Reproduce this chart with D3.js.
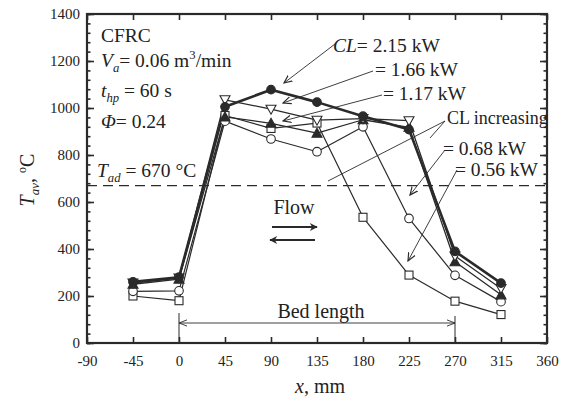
<!DOCTYPE html>
<html><head><meta charset="utf-8">
<script src="https://cdn.jsdelivr.net/npm/d3@7"></script>
<style>
html,body{margin:0;padding:0;background:#fff;}
text{font-family:"Liberation Serif","Times New Roman",serif;fill:#222;}
</style></head>
<body>
<svg id="c" width="570" height="407"></svg>
<script>
const xPos = [-45, 0, 45, 90, 135, 180, 225, 270, 315];
const cl215 = [260, 280, 1005, 1078, 1025, 965, 908, 390, 255];
const cl166 = [255, 276, 1035, 995, 948, 955, 946, 370, 232];
const cl117 = [250, 272, 962, 935, 893, 950, 918, 346, 205];
const cl068 = [220, 222, 944, 868, 814, 920, 530, 288, 176];
const cl056 = [200, 180, 968, 913, 936, 535, 289, 178, 121];
const xTicks = [-90, -45, 0, 45, 90, 135, 180, 225, 270, 315, 360];
const yTicks = [0, 200, 400, 600, 800, 1000, 1200, 1400];
const yMinor = d3.range(0, 1401, 40);
const tAd = 670;

const svg = d3.select("#c");
const x = d3.scaleLinear().domain([-90, 360]).range([87, 547]);
const y = d3.scaleLinear().domain([0, 1400]).range([343, 14]);
const ink = "#2a2a2a";
const FS = 19.5;

const defs = svg.append("defs");
defs.append("marker").attr("id","ah").attr("viewBox","0 0 10 10").attr("refX",9).attr("refY",5)
  .attr("markerWidth",9).attr("markerHeight",9).attr("markerUnits","userSpaceOnUse").attr("orient","auto")
  .append("path").attr("d","M0,1 L9,5 L0,9").attr("fill","none").attr("stroke",ink).attr("stroke-width",1.3);
defs.append("marker").attr("id","ahs").attr("viewBox","0 0 10 10").attr("refX",9).attr("refY",5)
  .attr("markerWidth",9).attr("markerHeight",9).attr("markerUnits","userSpaceOnUse").attr("orient","auto-start-reverse")
  .append("path").attr("d","M0,1.5 L9,5 L0,8.5").attr("fill","none").attr("stroke",ink).attr("stroke-width",1);
defs.append("marker").attr("id","fl").attr("viewBox","0 0 10 10").attr("refX",9).attr("refY",5)
  .attr("markerWidth",10).attr("markerHeight",8).attr("markerUnits","userSpaceOnUse").attr("orient","auto")
  .append("path").attr("d","M0,0 L10,5 L0,10 L3,5 Z").attr("fill",ink);

const fmt = d => String(d);
const gB = svg.append("g").attr("transform","translate(0,343)")
  .call(d3.axisBottom(x).tickValues(xTicks).tickSizeInner(-6).tickSizeOuter(0).tickPadding(12).tickFormat(fmt));
const gT = svg.append("g").attr("transform","translate(0,14)")
  .call(d3.axisTop(x).tickValues(xTicks).tickSizeInner(-6).tickSizeOuter(0).tickFormat(""));
const gL = svg.append("g").attr("transform","translate(87,0)")
  .call(d3.axisLeft(y).tickValues(yTicks).tickSizeInner(-7).tickSizeOuter(0).tickPadding(7).tickFormat(fmt));
const gLm = svg.append("g").attr("transform","translate(87,0)")
  .call(d3.axisLeft(y).tickValues(yMinor).tickSizeInner(-3.5).tickSizeOuter(0).tickFormat(""));
const gR = svg.append("g").attr("transform","translate(547,0)")
  .call(d3.axisRight(y).tickValues(yTicks).tickSizeInner(-7).tickSizeOuter(0).tickFormat(""));
const gRm = svg.append("g").attr("transform","translate(547,0)")
  .call(d3.axisRight(y).tickValues(yMinor).tickSizeInner(-3.5).tickSizeOuter(0).tickFormat(""));
[gB,gT,gL,gLm,gR,gRm].forEach(g=>{
  g.select(".domain").remove();
  g.selectAll(".tick line").attr("stroke",ink).attr("stroke-width",1.6);
  g.selectAll(".tick text").attr("font-size",15).attr("fill","#222").attr("font-family","Liberation Serif, serif");
});
svg.append("rect").attr("x",87).attr("y",14).attr("width",460).attr("height",329)
  .attr("fill","none").attr("stroke",ink).attr("stroke-width",2.2);

svg.append("line").attr("x1",x(-90)).attr("x2",x(360)).attr("y1",y(tAd)).attr("y2",y(tAd))
  .attr("stroke",ink).attr("stroke-width",1.2).attr("stroke-dasharray","10,6");

const line = d3.line().x((d,i)=>x(xPos[i])).y(d=>y(d));
const series = [
  {v:cl056, w:1.2, sym:"square", fill:"#fff"},
  {v:cl068, w:1.2, sym:"circle", fill:"#fff"},
  {v:cl117, w:1.3, sym:"tri", fill:ink},
  {v:cl166, w:1.3, sym:"dtri", fill:"#fff"},
  {v:cl215, w:2.6, sym:"circle", fill:ink},
];
series.forEach(s=>{
  svg.append("path").attr("d",line(s.v)).attr("fill","none").attr("stroke",ink).attr("stroke-width",s.w).attr("stroke-linejoin","round");
});
series.forEach(s=>{
  const g = svg.append("g");
  s.v.forEach((d,i)=>{
    const cx = x(xPos[i]), cy = y(d);
    let el;
    if (s.sym==="circle") el = g.append("circle").attr("cx",cx).attr("cy",cy).attr("r",4.3);
    else if (s.sym==="square") el = g.append("rect").attr("x",cx-4).attr("y",cy-4).attr("width",8).attr("height",8);
    else if (s.sym==="tri") el = g.append("path").attr("d",`M${cx},${cy-5} L${cx+5},${cy+4} L${cx-5},${cy+4}Z`);
    else el = g.append("path").attr("d",`M${cx-5},${cy-4} L${cx+5},${cy-4} L${cx},${cy+5}Z`);
    el.attr("fill",s.fill).attr("stroke",ink).attr("stroke-width",1.1);
  });
});

function label(xp, yp, parts, size, anchor){
  size = size || FS;
  const t = svg.append("text").attr("x",xp).attr("y",yp).attr("font-size",size).attr("text-anchor",anchor||"start");
  parts.forEach(p=>{
    const ts = t.append("tspan").text(p.t);
    if (p.i) ts.attr("font-style","italic");
    if (p.sub) ts.attr("font-size",size*0.65).attr("dy",5);
    if (p.sup) ts.attr("font-size",size*0.65).attr("dy",-8);
    if (p.back) ts.attr("dy",p.back);
  });
  return t;
}
label(101, 42, [{t:"CFRC"}]);
label(101, 67, [{t:"V",i:1},{t:"a",i:1,sub:1},{t:"= 0.06 m",back:-5},{t:"3",sup:1},{t:"/min",back:8}]);
label(101, 97, [{t:"t",i:1},{t:"hp",i:1,sub:1},{t:" = 60 s",back:-5}]);
label(101, 128, [{t:"Φ",i:1},{t:"= 0.24"}]);
label(97, 177, [{t:"T",i:1},{t:"ad",i:1,sub:1},{t:" = 670 °C",back:-5}]);

label(333, 52, [{t:"CL",i:1},{t:"= 2.15 kW"}]);
label(375, 76, [{t:"= 1.66 kW"}]);
label(383, 100, [{t:"= 1.17 kW"}]);
label(447, 124, [{t:"CL increasing"}], 18);
label(443, 155, [{t:"= 0.68 kW"}]);
label(455, 176, [{t:"= 0.56 kW"}]);
label(294, 214, [{t:"Flow"}], 20, "middle");
label(321, 318, [{t:"Bed length"}], 20, "middle");

const leaders = [
  [[335,44],[284,83],true],
  [[373,71],[283,103],true],
  [[382,95],[283,121],true],
  [[445,121],[328,181],false],
  [[445,121],[430,138],false],
  [[445,150],[410,195],true],
  [[457,170],[408,261],true],
];
leaders.forEach(l=>{
  const p = svg.append("line").attr("x1",l[0][0]).attr("y1",l[0][1]).attr("x2",l[1][0]).attr("y2",l[1][1])
    .attr("stroke",ink).attr("stroke-width",0.9);
  if (l[2]) p.attr("marker-end","url(#ah)");
});

svg.append("line").attr("x1",272).attr("x2",317).attr("y1",227).attr("y2",227).attr("stroke",ink).attr("stroke-width",1.8).attr("marker-end","url(#fl)");
svg.append("line").attr("x1",315).attr("x2",270).attr("y1",240).attr("y2",240).attr("stroke",ink).attr("stroke-width",1.8).attr("marker-end","url(#fl)");

svg.append("line").attr("x1",x(0)).attr("x2",x(270)).attr("y1",323).attr("y2",323)
  .attr("stroke",ink).attr("stroke-width",0.9).attr("marker-start","url(#ahs)").attr("marker-end","url(#ahs)");
svg.append("line").attr("x1",x(0)).attr("x2",x(0)).attr("y1",313).attr("y2",343).attr("stroke",ink).attr("stroke-width",1);
svg.append("line").attr("x1",x(270)).attr("x2",x(270)).attr("y1",316).attr("y2",343).attr("stroke",ink).attr("stroke-width",1);

label(320, 393, [{t:"x",i:1},{t:", mm"}], 20, "middle");
const yl = svg.append("text").attr("transform","translate(34,180) rotate(-90)").attr("text-anchor","middle").attr("font-size",20);
yl.append("tspan").text("T").attr("font-style","italic");
yl.append("tspan").text("av").attr("font-style","italic").attr("font-size",13).attr("dy",5);
yl.append("tspan").text(", ").attr("dy",-5);
yl.append("tspan").text("o").attr("font-size",12).attr("dy",-8);
yl.append("tspan").text("C").attr("dy",8);
</script>
</body></html>
